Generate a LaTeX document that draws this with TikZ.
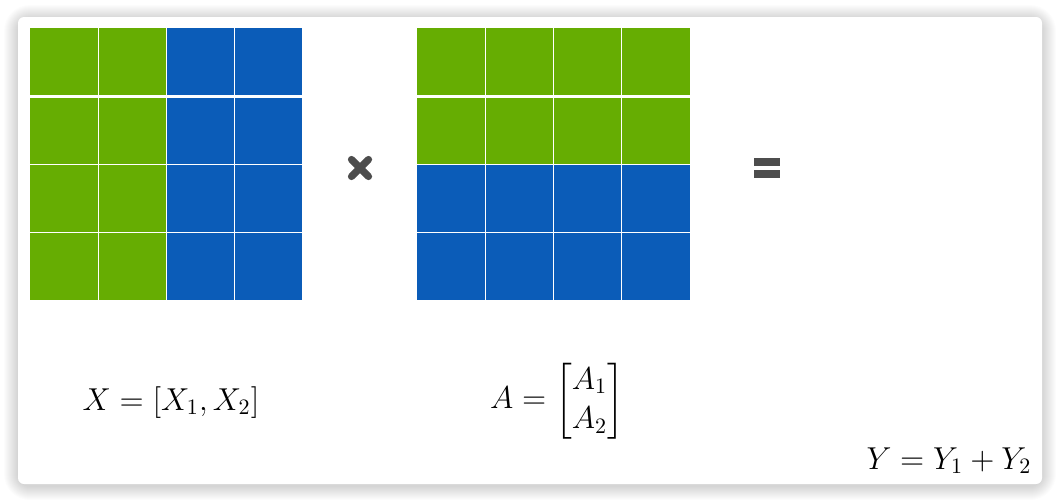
\documentclass[tikz,border=0pt]{standalone}
\usepackage{amsmath}
\usepackage{graphicx}
\usepackage{tikz}
\usepackage{color}

\definecolor{gr}{HTML}{66AD02}
\definecolor{bl}{HTML}{0B5CB8}
\definecolor{op}{HTML}{4D4D4D}

\newcommand{\lab}[1]{\scalebox{1.1}{\Large #1}}

\begin{document}
\begin{tikzpicture}[x=0.5pt,y=-0.5pt,
   grid/.style={white,line width=0.5pt},
   mid/.style={white,line width=1.5pt},
   eq/.style={inner sep=0pt}]
   \useasboundingbox (0,0) rectangle (1060,503);
   \fill[white] (0,0) rectangle (1060,503);

   % card with soft shadow
   \foreach \i in {1,...,14}
      \fill[black,opacity=0.012,rounded corners=6+\i*0.5] (18-\i,17-\i+2) rectangle (1042+\i,484+\i+2);
   \fill[white,rounded corners=3pt] (18,17) rectangle (1042,484);

   % matrix X
   \fill[gr] (30,28) rectangle (166,300);
   \fill[bl] (166,28) rectangle (302,300);
   \draw[grid] (98,28) -- (98,300);
   \draw[grid] (166,28) -- (166,300);
   \draw[grid] (234,28) -- (234,300);
   \draw[mid] (30,96) -- (302,96);
   \draw[grid] (30,164) -- (302,164);
   \draw[grid] (30,232) -- (302,232);

   % matrix A
   \fill[gr] (417,28) rectangle (690,164);
   \fill[bl] (417,164) rectangle (690,300);
   \draw[grid] (485,28) -- (485,300);
   \draw[grid] (553,28) -- (553,300);
   \draw[grid] (621,28) -- (621,300);
   \draw[mid] (417,96) -- (690,96);
   \draw[grid] (417,164) -- (690,164);
   \draw[grid] (417,232) -- (690,232);

   % times
   \draw[op,line width=3.6pt,line cap=round] (351.5,159.5) -- (368.5,176.5);
   \draw[op,line width=3.6pt,line cap=round] (351.5,176.5) -- (368.5,159.5);

   % equals
   \fill[op] (754,158) rectangle (780,166);
   \fill[op] (754,170) rectangle (780,178);

   \node[eq,anchor=base] (x) at (171,410) {\lab{$X = [X_1, X_2]$}};
   \node[eq] (a) at (557,401) {\lab{$A = \begin{bmatrix} A_1 \\ A_2 \end{bmatrix}$}};
   \node[eq,anchor=base] (y) at (949,469) {\lab{$Y = Y_1 + Y_2$}};
\end{tikzpicture}
\end{document}
